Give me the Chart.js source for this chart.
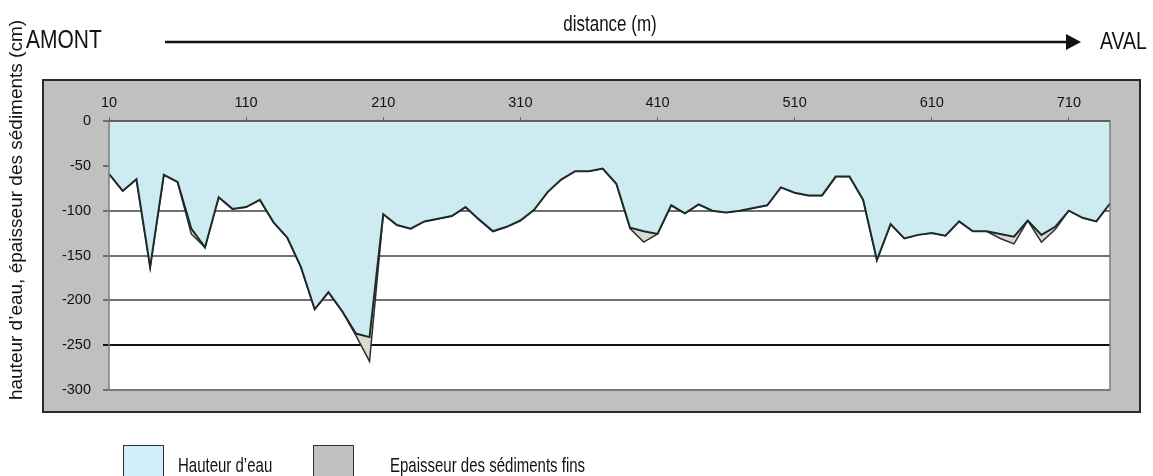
<!DOCTYPE html>
<html>
<head>
<meta charset="utf-8">
<script src="https://cdn.jsdelivr.net/npm/chart.js@4.4.0/dist/chart.umd.min.js"></script>
<style>
  html, body { margin: 0; padding: 0; background: #fff; }
  #wrap { position: relative; width: 1153px; height: 476px; }
</style>
</head>
<body>
<div id="wrap"><canvas id="profil" width="1153" height="476"></canvas></div>
<script>
// distance le long du cours d'eau (m)
const distances = [10, 20, 30, 40, 50, 60, 70, 80, 90, 100,
    110, 120, 130, 140, 150, 160, 170, 180, 190, 200,
    210, 220, 230, 240, 250, 260, 270, 280, 290, 300,
    310, 320, 330, 340, 350, 360, 370, 380, 390, 400,
    410, 420, 430, 440, 450, 460, 470, 480, 490, 500,
    510, 520, 530, 540, 550, 560, 570, 580, 590, 600,
    610, 620, 630, 640, 650, 660, 670, 680, 690, 700,
    710, 720, 730, 740];

// hauteur d'eau (cm, vers le bas)
const hauteurEau = [-59, -78, -65, -163, -60, -68, -120, -141, -85, -98,
    -96, -88, -113, -130, -163, -210, -191, -212, -237, -241,
    -104, -116, -120, -112, -109, -106, -96, -110, -123, -118,
    -111, -99, -79, -65, -56, -56, -53, -70, -119, -123,
    -126, -94, -103, -93, -100, -102, -100, -97, -94, -74,
    -80, -83, -83, -62, -62, -88, -155, -115, -131, -127,
    -125, -128, -112, -123, -123, -126, -129, -111, -127, -118,
    -100, -108, -112, -92];

// epaisseur des sediments fins (cm), empilee sous l'eau
const epaisseurSed = [0, 0, 0, 0, 0, 0, -6, 0, 0, 0,
    0, 0, 0, 0, 0, 0, 0, 0, -2, -27,
    0, 0, 0, 0, 0, 0, 0, 0, 0, 0,
    0, 0, 0, 0, 0, 0, 0, 0, -1, -12,
    0, 0, 0, 0, 0, 0, 0, 0, 0, 0,
    0, 0, 0, 0, 0, 0, 0, 0, 0, 0,
    0, 0, 0, 0, 0, -5, -8, 0, -8, -3,
    0, 0, 0, 0];

const police = "'Liberation Sans', Arial, sans-serif";
const bleuEau = '#cdebf0';
const sediment = '#ddd8cf';

// texte etire verticalement (comme dans l'image d'origine)
function texte(ctx, str, x, y, size, sy, align) {
    ctx.save();
    ctx.translate(x, y);
    ctx.scale(1, sy);
    ctx.font = size + 'px ' + police;
    ctx.textAlign = align || 'left';
    ctx.textBaseline = 'alphabetic';
    ctx.fillText(str, 0, 0);
    ctx.restore();
}

const decor = {
    id: 'decor',
    beforeDraw(chart) {
        const ctx = chart.ctx;
        const a = chart.chartArea;
        ctx.save();
        ctx.fillStyle = '#fff';
        ctx.fillRect(0, 0, chart.width, chart.height);
        // cadre gris
        ctx.fillStyle = '#c0c0c0';
        ctx.fillRect(43, 80, 1097, 332);
        ctx.strokeStyle = '#2a2a2a';
        ctx.lineWidth = 2;
        ctx.strokeRect(43, 80, 1097, 332);
        ctx.fillStyle = '#fff';
        ctx.fillRect(a.left, a.top, a.right - a.left, a.bottom - a.top);
        ctx.restore();
    },
    afterDatasetsDraw(chart) {
        const ctx = chart.ctx;
        const a = chart.chartArea;
        ctx.save();
        ctx.strokeStyle = '#7d7d7d';
        ctx.lineWidth = 1.5;
        ctx.strokeRect(a.left, a.top, a.right - a.left, a.bottom - a.top);
        ctx.strokeStyle = '#555';
        ctx.beginPath();
        ctx.moveTo(a.left, a.top);
        ctx.lineTo(a.right, a.top);
        ctx.stroke();
        ctx.restore();
    },
    afterDraw(chart) {
        const ctx = chart.ctx;
        ctx.save();
        ctx.fillStyle = '#111';

        texte(ctx, 'AMONT', 26, 48, 21, 1.2);
        texte(ctx, 'AVAL', 1100, 49, 19.5, 1.25);
        texte(ctx, 'distance (m)', 610, 31, 17, 1.3, 'center');

        // fleche amont -> aval
        ctx.strokeStyle = '#111';
        ctx.lineWidth = 2.5;
        ctx.beginPath();
        ctx.moveTo(165, 42);
        ctx.lineTo(1068, 42);
        ctx.stroke();
        ctx.beginPath();
        ctx.moveTo(1066, 34);
        ctx.lineTo(1081, 42);
        ctx.lineTo(1066, 50);
        ctx.closePath();
        ctx.fill();

        // titre de l'axe vertical
        ctx.save();
        ctx.translate(17, 210);
        ctx.rotate(-Math.PI / 2);
        ctx.font = '19px ' + police;
        ctx.textAlign = 'center';
        ctx.textBaseline = 'middle';
        ctx.fillText('hauteur d\u2019eau, \u00e9paisseur des s\u00e9diments (cm)', 0, 0);
        ctx.restore();

        // legende
        const boxes = [
            { x: 123, fill: '#d3eefb', label: chart.data.datasets[0].label, tx: 178 },
            { x: 313, fill: '#c0c0c0', label: chart.data.datasets[1].label, tx: 390 }
        ];
        ctx.lineWidth = 1;
        ctx.strokeStyle = '#333';
        boxes.forEach(b => {
            ctx.fillStyle = b.fill;
            ctx.fillRect(b.x, 445, 40, 34);
            ctx.strokeRect(b.x + 0.5, 445.5, 40, 34);
            ctx.fillStyle = '#111';
            texte(ctx, b.label, b.tx, 472, 15, 1.4);
        });
        ctx.restore();
    }
};

new Chart(document.getElementById('profil'), {
    type: 'line',
    data: {
        labels: distances,
        datasets: [{
            label: 'Hauteur d\u2019eau',
            data: hauteurEau,
            fill: 'origin',
            backgroundColor: bleuEau,
            borderColor: '#1e2a2a',
            borderWidth: 2,
            pointRadius: 0,
            tension: 0
        },
        {
            label: 'Epaisseur des s\u00e9diments fins',
            data: epaisseurSed,
            fill: '-1',
            backgroundColor: sediment,
            borderColor: '#2a2f2f',
            borderWidth: 1.5,
            pointRadius: 0,
            tension: 0
        }]
    },
    options: {
        responsive: false,
        devicePixelRatio: 1,
        animation: false,
        layout: { padding: { left: 0, right: 43, top: 30, bottom: 86 } },
        plugins: {
            legend: { display: false },
            tooltip: { enabled: false }
        },
        scales: {
            x: {
                position: 'top',
                offset: false,
                afterFit: (s) => { s.height = 91; },
                ticks: {
                    autoSkip: false,
                    maxRotation: 0,
                    padding: 5,
                    color: '#111',
                    font: { family: police, size: 14.5 },
                    callback: function (v, i) { return i % 10 === 0 ? this.getLabelForValue(v) : ''; }
                },
                grid: {
                    drawOnChartArea: false,
                    tickLength: 4,
                    tickColor: (c) => c.index % 10 === 0 ? '#666' : 'rgba(0,0,0,0)'
                },
                border: { display: false }
            },
            y: {
                stacked: true,
                min: -300,
                max: 0,
                afterFit: (s) => { s.width = 109; },
                ticks: {
                    stepSize: 50,
                    padding: 12,
                    color: '#111',
                    font: { family: police, size: 14.5 }
                },
                grid: {
                    lineWidth: 2,
                    tickLength: 6,
                    color: (c) => c.tick && c.tick.value === -250 ? '#111' : '#707070'
                },
                border: { display: false }
            }
        }
    },
    plugins: [decor]
});
</script>
</body>
</html>
